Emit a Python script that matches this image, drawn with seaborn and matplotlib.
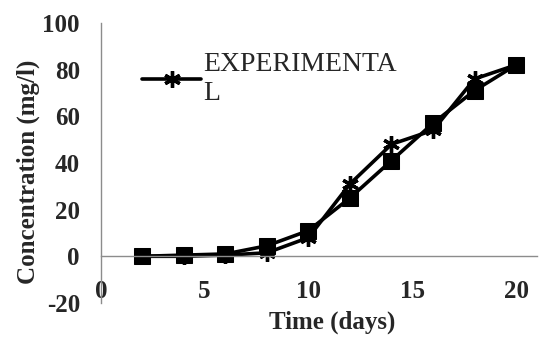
import matplotlib
matplotlib.use("Agg")
import matplotlib.pyplot as plt
import seaborn as sns

# Time points (days) and measured / predicted concentrations (mg/l)
days = [2, 4, 6, 8, 10, 12, 14, 16, 18, 20]
experimental = [0, 0, 0.5, 1.5, 8, 31, 48, 54, 76, 82]
predicted = [0, 0.5, 1, 4.5, 11, 25, 41, 57, 71, 82]

x_ticks = [0, 5, 10, 15, 20]
y_ticks = [-20, 0, 20, 40, 60, 80, 100]

sns.set_theme(style="white")
plt.rcParams["font.family"] = ["Liberation Serif", "DejaVu Serif"]
plt.rcParams["axes.unicode_minus"] = False

fig = plt.figure(figsize=(5.39, 3.37), dpi=100)
ax = fig.add_axes([0.187, 0.101, 0.809, 0.831])

asterisk = (6, 2, 0)
sns.lineplot(x=days, y=experimental, ax=ax, color="black", linewidth=2.6,
             marker=asterisk, markersize=12, markeredgewidth=2.4,
             markeredgecolor="black", label="EXPERIMENTA\nL")
sns.lineplot(x=days, y=predicted, ax=ax, color="black", linewidth=2.6,
             marker="s", markersize=11, markeredgecolor="black",
             label="_model")

ax.set_xlim(0, 21)
ax.set_ylim(-20, 100)
ax.set_xticks(x_ticks)
ax.set_yticks(y_ticks)

grey = "#8c8c8c"
for side in ("top", "right"):
    ax.spines[side].set_visible(False)
ax.spines["bottom"].set_position(("data", 0))
ax.spines["bottom"].set_color(grey)
ax.spines["left"].set_color(grey)
ax.spines["bottom"].set_linewidth(1.0)
ax.spines["left"].set_linewidth(1.0)

ax.tick_params(axis="x", direction="out", length=5, width=1, color=grey,
               pad=12, labelsize=18)
ax.tick_params(axis="y", direction="out", length=3, width=1, color=grey,
               pad=12, labelsize=18)
for lbl in ax.get_xticklabels() + ax.get_yticklabels():
    lbl.set_fontweight("bold")

ax.set_xlabel("Time (days)", fontsize=18, fontweight="bold")
ax.xaxis.set_label_coords(0.53, -0.028)
ax.set_ylabel("Concentration (mg/l)", fontsize=18, fontweight="bold")
ax.yaxis.set_label_coords(-0.14, 0.47)

leg = ax.legend(loc="upper left", bbox_to_anchor=(0.07, 0.935), frameon=False,
                fontsize=20, handlelength=2.1, handletextpad=0.1,
                borderaxespad=0, labelspacing=0)

fig.savefig("out.png", dpi=100)
